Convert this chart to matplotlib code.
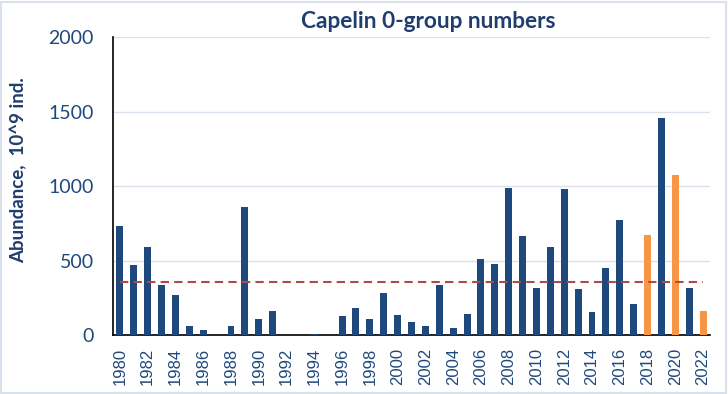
import matplotlib.pyplot as plt
from matplotlib.patches import Rectangle

# --------------------------------
# Data
# --------------------------------
years = list(range(1980, 2023))
abundance = [732, 470, 591, 336, 269, 63, 34, 0, 63, 860,
             107, 161, 0, 0, 7, 0, 128, 181, 107, 282,
             134, 87, 63, 336, 49, 141, 510, 477, 987, 665,
             318, 591, 981, 311, 154, 450, 772, 208, 672, 1458,
             1075, 318, 161]
highlight_years = [2018, 2020, 2022]
mean_level = 358

dark_blue = '#1f497d'
orange = '#f79646'
text_blue = '#1f3d6e'

plt.rcParams['font.family'] = ['Lato', 'DejaVu Sans']

fig = plt.figure(figsize=(7.28, 3.94), dpi=100)
ax = fig.add_axes([113 / 728, 1 - 335 / 394, (710 - 113) / 728, (335 - 37.3) / 394])

colors = [orange if y in highlight_years else dark_blue for y in years]
x = list(range(len(years)))
ax.bar(x, abundance, width=0.5, color=colors, zorder=3)
ax.plot([x[0], x[-1]], [mean_level, mean_level], color='#b04a4a',
        linestyle=(0, (4, 2.5)), linewidth=1.5, zorder=4)

ax.set_xlim(-0.5, len(years) - 0.5)
ax.set_ylim(0, 2000)
ax.set_yticks([0, 500, 1000, 1500, 2000])
ax.set_xticks(x[::2])
ax.set_xticklabels([str(y) for y in years[::2]], rotation=90,
                   family=['Liberation Sans', 'DejaVu Sans'])
ax.tick_params(axis='both', length=0, colors=dark_blue)
ax.tick_params(axis='y', labelsize=14, pad=14)
ax.tick_params(axis='x', labelsize=12, pad=9)
ax.grid(axis='y', color='#d9e1ec', linewidth=1, zorder=0)

for side in ['top', 'right']:
    ax.spines[side].set_visible(False)
for side in ['left', 'bottom']:
    ax.spines[side].set_color('black')
    ax.spines[side].set_linewidth(1.2)

fig.text(19 / 728, 1 - 170 / 394, 'Abundance,  10^9 ind.', rotation=90,
         ha='center', va='center', fontsize=13.5, fontweight='bold', color=text_blue)
fig.text(428 / 728, 1 - 22 / 394, 'Capelin 0-group numbers', ha='center', va='center',
         fontsize=16.3, fontweight='bold', color=text_blue)

fig.patches.append(Rectangle((0.002, 0.003), 0.995, 0.993, transform=fig.transFigure,
                             fill=False, edgecolor='#d9e1ec', linewidth=1.5))

fig.savefig('out.png', dpi=100)
